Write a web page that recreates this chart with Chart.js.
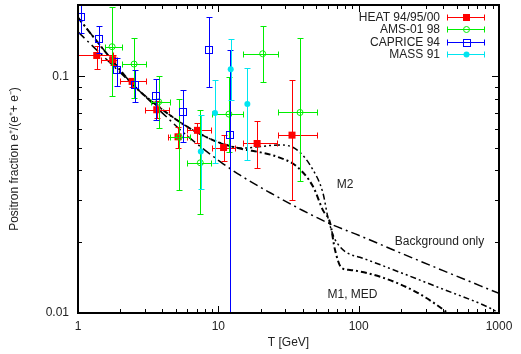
<!DOCTYPE html>
<html>
<head>
<meta charset="utf-8">
<script src="https://cdn.jsdelivr.net/npm/chart.js@4.4.0/dist/chart.umd.min.js"></script>
<style>
  html, body { margin: 0; padding: 0; background: #fff; }
  #wrap { width: 521px; height: 354px; }
</style>
</head>
<body>
<div id="wrap"><canvas id="graph"></canvas></div>
<script>
// HEAT 94/95/00
const heatT   = [1.36, 1.77, 2.43, 3.64, 5.16, 7.1, 10.9, 18.9, 33.5];
const heatTlo = [1.0, 1.47, 1.99, 3.0, 4.4, 6.0, 8.95, 14.9, 26.6];
const heatThi = [1.78, 1.89, 3.05, 4.47, 6.0, 8.9, 13.1, 26.3, 50.2];
const heatF   = [0.1224, 0.1175, 0.0951, 0.0722, 0.0555, 0.0591, 0.050, 0.052, 0.0564];
const heatFlo = [0.1076, 0.112, 0.0903, 0.0668, 0.050, 0.0524, 0.0439, 0.0408, 0.0300];
const heatFhi = [0.1346, 0.1234, 0.0984, 0.0786, 0.061, 0.0636, 0.0563, 0.0649, 0.0966];

// AMS-01 98
const amsT   = [1.75, 2.51, 3.76, 5.27, 7.44, 11.9, 20.7, 38.2];
const amsTlo = [1.56, 2.05, 3.3, 4.53, 6.0, 8.95, 14.9, 26.6];
const amsThi = [2.05, 3.05, 4.53, 6.27, 8.9, 14.9, 26.7, 50.2];
const amsF   = [0.1333, 0.1126, 0.078, 0.0553, 0.0431, 0.0692, 0.1245, 0.0703];
const amsFlo = [0.0823, 0.081, 0.0604, 0.0331, 0.0261, 0.048, 0.0945, 0.0361];
const amsFhi = [0.197, 0.1447, 0.0998, 0.0801, 0.0722, 0.0992, 0.1625, 0.1447];

// CAPRICE 94
const capT   = [1.045, 1.40, 1.91, 2.55, 3.58, 5.63, 8.58, 12.1];
const capF   = [0.178, 0.1437, 0.1065, 0.092, 0.0822, 0.0703, 0.129, 0.0564];
const capFlo = [0.1527, 0.1254, 0.091, 0.0782, 0.0655, 0.053, 0.0899, 0.005];
const capFhi = [0.25, 0.1625, 0.1195, 0.1065, 0.0974, 0.0876, 0.178, 0.129];

// MASS 91
const massT   = [7.5, 9.47, 12.25, 16.1];
const massF   = [0.0481, 0.0699, 0.107, 0.0763];
const massFlo = [0.0335, 0.043, 0.079, 0.0443];
const massFhi = [0.0688, 0.0966, 0.1437, 0.1082];

// model curves
const bgT = [1, 1.5, 2.47, 4, 5.8, 10.3, 14.3, 23.4, 40, 62.6, 100, 200, 400, 1000];
const bgF = [0.154, 0.122, 0.092, 0.0699, 0.057, 0.0436, 0.0382, 0.0322, 0.0271, 0.0238, 0.0213, 0.0179, 0.0151, 0.0121];

const m1T = [1, 1.5, 2.47, 4, 6.5, 10.3, 15, 20, 26, 36.2, 47.3, 55.6, 62.6, 67.8, 75.6, 86.7, 149, 261, 413, 600];
const m1F = [0.177, 0.131, 0.092, 0.0723, 0.0595, 0.0523, 0.0492, 0.0477, 0.0458, 0.0416, 0.0342, 0.0272, 0.0240, 0.0185, 0.0155, 0.0152, 0.0141, 0.0122, 0.0102, 0.0085];

const m2T = [1, 1.5, 2.47, 4, 6.5, 10.3, 15, 20, 27.5, 36.3, 47.2, 55.6, 60.5, 66, 73.8, 85, 102, 200, 400, 833, 1000];
const m2F = [0.177, 0.131, 0.092, 0.0723, 0.0595, 0.0523, 0.0497, 0.0505, 0.0513, 0.0489, 0.0403, 0.0322, 0.0252, 0.0212, 0.019, 0.0178, 0.0172, 0.0148, 0.0126, 0.0106, 0.0100];

// text labels on the plot: [text, T, fraction]
const curveLabels = [
  ['M2', 69.9, 0.0347],
  ['Background only', 181, 0.0200],
  ['M1, MED', 60, 0.0120]
];

const xMajor = [1, 10, 100, 1000];
const yMajor = [0.01, 0.1];

function pts(xs, ys) { return xs.map((v, i) => ({ x: v, y: ys[i] })); }

const FONT = '"Liberation Sans", Arial, sans-serif';

function drawMarker(ctx, kind, color, px, py) {
  ctx.save();
  ctx.strokeStyle = color; ctx.fillStyle = color; ctx.lineWidth = 1;
  ctx.beginPath();
  if (kind === 'fsq') { ctx.fillRect(px - 3.5, py - 3.5, 7, 7); }
  else if (kind === 'osq') { ctx.strokeRect(Math.round(px) - 3.5, Math.round(py) - 3.5, 7, 7); }
  else if (kind === 'ocirc') { ctx.arc(px, py, 3, 0, Math.PI * 2); ctx.stroke(); }
  else if (kind === 'fcirc') { ctx.arc(px, py, 3, 0, Math.PI * 2); ctx.fill(); }
  ctx.restore();
}

const errorBars = {
  id: 'errorBars',
  afterDatasetsDraw(chart) {
    const { ctx, chartArea: a, scales: { x, y } } = chart;
    ctx.save();
    ctx.beginPath();
    ctx.rect(a.left, a.top, a.right - a.left, a.bottom - a.top);
    ctx.clip();
    chart.data.datasets.forEach(ds => {
      if (!ds.err) return;
      const e = ds.err;
      ds.data.forEach((p, i) => {
        const px = Math.round(x.getPixelForValue(p.x)) + 0.5;
        const py = Math.round(y.getPixelForValue(p.y)) + 0.5;
        ctx.strokeStyle = ds.barColor; ctx.lineWidth = 1;
        ctx.beginPath();
        const y1 = Math.round(y.getPixelForValue(e.flo[i])) + 0.5;
        const y2 = Math.round(y.getPixelForValue(e.fhi[i])) + 0.5;
        ctx.moveTo(px, y1); ctx.lineTo(px, y2);
        ctx.moveTo(px - 3, y1); ctx.lineTo(px + 3, y1);
        ctx.moveTo(px - 3, y2); ctx.lineTo(px + 3, y2);
        if (e.tlo) {
          const x1 = Math.round(x.getPixelForValue(e.tlo[i])) + 0.5;
          const x2 = Math.round(x.getPixelForValue(e.thi[i])) + 0.5;
          ctx.moveTo(x1, py); ctx.lineTo(x2, py);
          ctx.moveTo(x1, py - 3); ctx.lineTo(x1, py + 3);
          ctx.moveTo(x2, py - 3); ctx.lineTo(x2, py + 3);
        }
        ctx.stroke();
        drawMarker(ctx, ds.marker, ds.barColor, x.getPixelForValue(p.x), y.getPixelForValue(p.y));
      });
    });
    ctx.restore();
  }
};

const frame = {
  id: 'frame',
  afterDraw(chart) {
    const { ctx, chartArea: a, scales: { x, y } } = chart;
    ctx.save();
    ctx.strokeStyle = '#000';
    ctx.lineWidth = 1;
    ctx.beginPath();
    for (let d = 1; d < 1000; d *= 10) {
      for (let k = 1; k < 10; k++) {
        const v = d * k;
        if (v <= 1) continue;
        const len = k === 1 ? 7 : 4;
        const px = Math.round(x.getPixelForValue(v)) + 0.5;
        ctx.moveTo(px, a.bottom); ctx.lineTo(px, a.bottom - len);
        ctx.moveTo(px, a.top); ctx.lineTo(px, a.top + len);
      }
    }
    for (let k = 2; k <= 20; k++) {
      const v = k * 0.01;
      if (k > 10 && k !== 20) continue;
      const len = k === 10 ? 7 : 4;
      const py = Math.round(y.getPixelForValue(v)) + 0.5;
      ctx.moveTo(a.left, py); ctx.lineTo(a.left + len, py);
      ctx.moveTo(a.right, py); ctx.lineTo(a.right - len, py);
    }
    ctx.stroke();
    ctx.lineWidth = 2;
    ctx.strokeRect(Math.round(a.left), Math.round(a.top), Math.round(a.right - a.left), Math.round(a.bottom - a.top));

    // curve labels
    ctx.fillStyle = '#222';
    ctx.font = '12px ' + FONT;
    ctx.textBaseline = 'middle';
    ctx.textAlign = 'left';
    curveLabels.forEach(l => {
      ctx.fillText(l[0], x.getPixelForValue(l[1]), y.getPixelForValue(l[2]));
    });

    // key, top right
    const items = chart.data.datasets.filter(ds => ds.err);
    ctx.textAlign = 'right';
    items.forEach((ds, i) => {
      const ty = Math.round(a.top + 12 + i * 12.4) + 0.5;
      ctx.fillStyle = '#222';
      ctx.fillText(ds.label, a.right - 59, ty);
      const x1 = a.right - 51.5, x2 = a.right - 14.5, xm = Math.round((x1 + x2) / 2) + 0.5;
      ctx.strokeStyle = ds.barColor; ctx.lineWidth = 1;
      ctx.beginPath();
      ctx.moveTo(x1, ty); ctx.lineTo(x2, ty);
      ctx.moveTo(x1, ty - 3); ctx.lineTo(x1, ty + 3);
      ctx.moveTo(x2, ty - 3); ctx.lineTo(x2, ty + 3);
      ctx.stroke();
      drawMarker(ctx, ds.marker, ds.barColor, xm, ty);
    });
    ctx.restore();
  }
};

const curveStyle = { showLine: true, pointRadius: 0, borderColor: '#000', fill: false, cubicInterpolationMode: 'monotone' };

new Chart(document.getElementById('graph'), {
  type: 'scatter',
  data: {
    datasets: [
      { label: 'HEAT 94/95/00', data: pts(heatT, heatF), pointRadius: 0, barColor: '#ff0000', marker: 'fsq',
        err: { tlo: heatTlo, thi: heatThi, flo: heatFlo, fhi: heatFhi } },
      { label: 'AMS-01 98', data: pts(amsT, amsF), pointRadius: 0, barColor: '#00ee00', marker: 'ocirc',
        err: { tlo: amsTlo, thi: amsThi, flo: amsFlo, fhi: amsFhi } },
      { label: 'CAPRICE 94', data: pts(capT, capF), pointRadius: 0, barColor: '#0000ff', marker: 'osq',
        err: { flo: capFlo, fhi: capFhi } },
      { label: 'MASS 91', data: pts(massT, massF), pointRadius: 0, barColor: '#00e5f0', marker: 'fcirc',
        err: { flo: massFlo, fhi: massFhi } },
      Object.assign({ label: 'Background only', data: pts(bgT, bgF), borderWidth: 1.5, borderDash: [9, 4, 2, 4] }, curveStyle),
      Object.assign({ label: 'M2', data: pts(m2T, m2F), borderWidth: 1.5, borderDash: [6, 3, 2, 3, 2, 3] }, curveStyle),
      Object.assign({ label: 'M1, MED', data: pts(m1T, m1F), borderWidth: 2, borderDash: [6, 3, 2, 3] }, curveStyle)
    ]
  },
  options: {
    responsive: true,
    maintainAspectRatio: false,
    animation: false,
    layout: { padding: { top: 5, right: 22, left: 0, bottom: 0 } },
    plugins: { legend: { display: false }, tooltip: { enabled: false } },
    scales: {
      x: {
        type: 'logarithmic', min: 1, max: 1000,
        grid: { display: false, drawTicks: false },
        border: { display: false },
        ticks: {
          autoSkip: false, maxRotation: 0, padding: 6, color: '#222',
          font: { family: FONT, size: 12 },
          callback: v => xMajor.includes(v) ? String(v) : ''
        },
        title: { display: true, text: 'T [GeV]', color: '#222', font: { family: FONT, size: 12 }, padding: { top: 0, bottom: 4 } },
        afterFit: s => { s.height = 41; s.paddingLeft = 0; s.paddingRight = 0; }
      },
      y: {
        type: 'logarithmic', min: 0.01, max: 0.2,
        grid: { display: false, drawTicks: false },
        border: { display: false },
        ticks: {
          autoSkip: false, padding: 9, color: '#222',
          font: { family: FONT, size: 12 },
          callback: v => yMajor.some(m => Math.abs(m - v) < 1e-9) ? String(v) : ''
        },
        title: { display: true, text: 'Positron fraction e\u207A/(e\u207A+ e\u207B)', color: '#222', font: { family: FONT, size: 12 }, padding: { top: 7, bottom: 0 } },
        afterFit: s => { s.width = 78; s.paddingTop = 0; s.paddingBottom = 0; }
      }
    }
  },
  plugins: [errorBars, frame]
});
</script>
</body>
</html>
